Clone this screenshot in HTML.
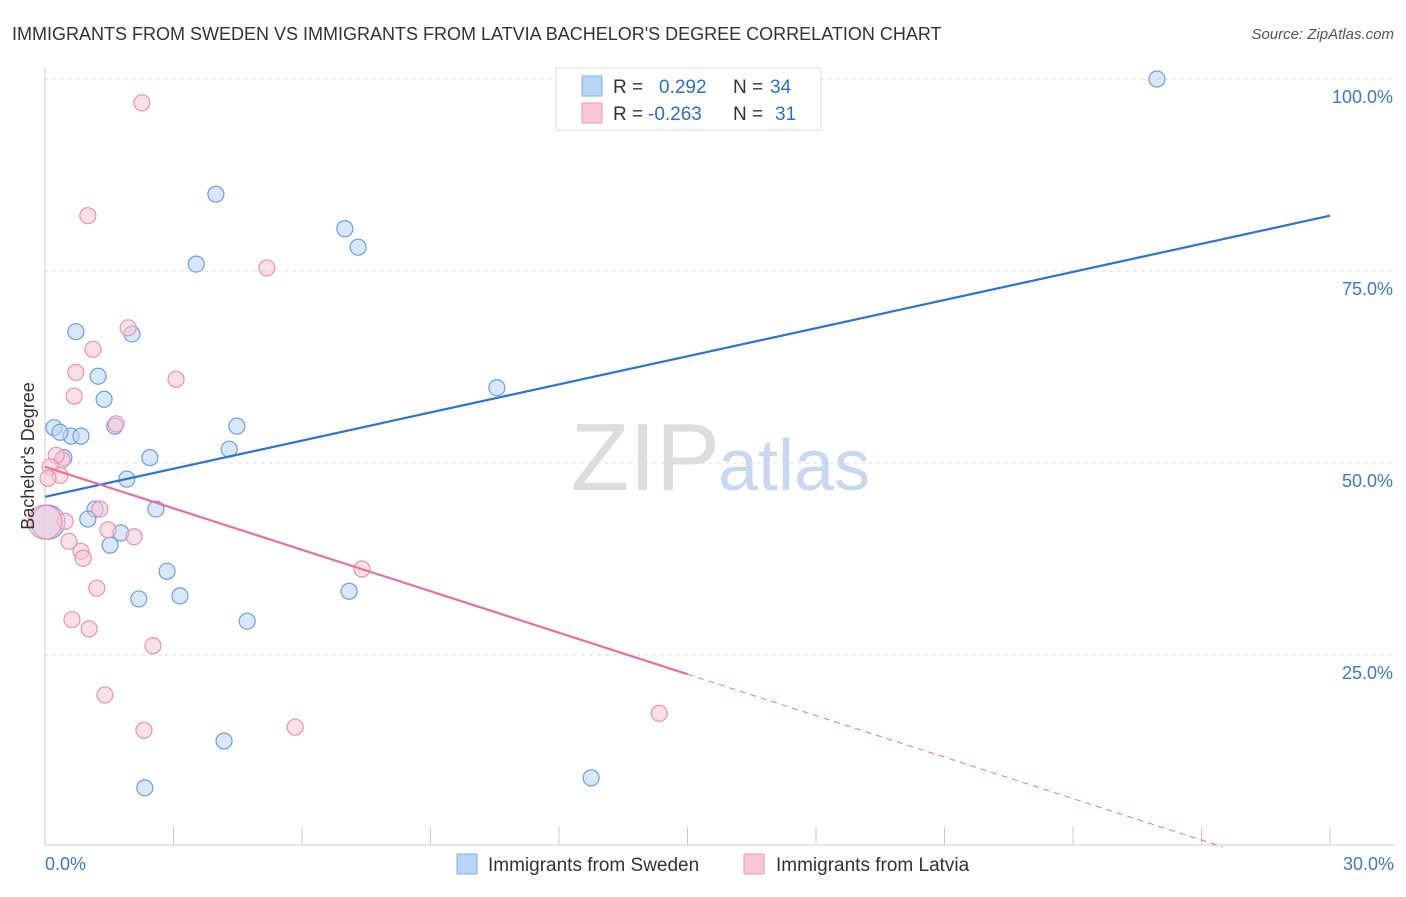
<!DOCTYPE html>
<html><head><meta charset="utf-8"><style>
body{margin:0;background:#fff;font-family:"Liberation Sans",sans-serif}
svg text{font-family:"Liberation Sans",sans-serif}
</style></head><body>
<svg id="c" width="1406" height="892" xmlns="http://www.w3.org/2000/svg">
<text x="12" y="40" font-size="18" fill="#333">IMMIGRANTS FROM SWEDEN VS IMMIGRANTS FROM LATVIA BACHELOR'S DEGREE CORRELATION CHART</text>
<text x="1394" y="39" font-size="15" fill="#555" text-anchor="end" font-style="italic">Source: ZipAtlas.com</text>
<text x="720" y="490" font-size="96" fill="#ddd" text-anchor="end" font-family="Liberation Serif">ZIP</text>
<text x="718" y="490" font-size="72" fill="#c8d8f0">atlas</text>
<g id="grid"></g><g id="axes"></g><g id="pts"></g><g id="lines"></g>
<text transform="translate(34,456) rotate(-90)" font-size="18" fill="#333" text-anchor="middle">Bachelor's Degree</text>
<g>
<rect x="556" y="68" width="265" height="62" fill="#fff" stroke="#ddd"/>
<rect x="582" y="76" width="20" height="20" fill="#b8d4f6" stroke="#7eaee8"/>
<rect x="582" y="103" width="20" height="20" fill="#f9c6d4" stroke="#ee9ab4"/>
<text x="613" y="93" font-size="19" fill="#333">R = </text><text x="659" y="93" font-size="19" fill="#2a6fcf">0.292</text>
<text x="733" y="93" font-size="19" fill="#333">N = </text><text x="770" y="93" font-size="19" fill="#2a6fcf">34</text>
<text x="613" y="120" font-size="19" fill="#333">R = </text><text x="648" y="120" font-size="19" fill="#2a6fcf">-0.263</text>
<text x="733" y="120" font-size="19" fill="#333">N = </text><text x="775" y="120" font-size="19" fill="#2a6fcf">31</text>
</g>
<g>
<rect x="457" y="854" width="20" height="20" fill="#b8d4f6" stroke="#7eaee8"/>
<text x="488" y="871" font-size="19" fill="#333">Immigrants from Sweden</text>
<rect x="744" y="854" width="20" height="20" fill="#f9c6d4" stroke="#ee9ab4"/>
<text x="776" y="871" font-size="19" fill="#333">Immigrants from Latvia</text>
</g>
</svg>
<script>
const swedenX=[25.96,3.99,7.0,7.31,3.53,0.72,2.03,1.24,1.38,10.55,0.21,1.63,4.48,0.61,0.84,0.44,2.45,4.3,1.91,2.59,1.17,1.0,1.77,1.52,2.85,2.19,3.15,7.1,4.72,4.18,12.75,2.33,0.07,0.35];
const swedenY=[100,85,80.5,78.1,75.9,67.1,66.8,61.3,58.3,59.8,54.6,54.8,54.8,53.5,53.5,50.7,50.7,51.8,47.9,44,44,42.7,40.9,39.3,35.9,32.3,32.7,33.3,29.4,13.8,9,7.7,42.3,54];
const latviaX=[2.26,1.0,5.18,1.94,1.12,0.72,3.06,0.68,1.66,0.4,0.26,0.12,0.35,0.07,0.47,1.28,1.47,2.08,0.56,0.84,0.89,7.4,1.21,0.63,1.03,2.52,1.4,2.31,5.84,14.34,0];
const latviaY=[96.9,82.2,75.4,67.6,64.8,61.8,60.9,58.7,55.1,50.4,51,49.5,48.4,48,42.4,44,41.3,40.4,39.8,38.5,37.6,36.2,33.7,29.6,28.4,26.2,19.8,15.2,15.6,17.4,42.3];
const swedenTrend=[45.6,82.2];
const latviaTrend=[49.5,-4.5];
const yTicks=[25,50,75,100];
const xTicks=[0,3,6,9,12,15,18,21,24,27,30];
const X=v=>45+v*(1285/30), Y=v=>847-v*7.68;
const NS="http://www.w3.org/2000/svg";
function mk(p,t,a){const e=document.createElementNS(NS,t);for(const k in a)e.setAttribute(k,a[k]);document.getElementById(p).appendChild(e);return e;}
yTicks.forEach(t=>{
 const l=mk('grid','line',{x1:45,x2:1394,y1:Y(t),y2:Y(t),stroke:'#ddd','stroke-dasharray':'4,4'});
 
 
 const tx=mk('grid','text',{x:1393,y:Y(t)+24,'font-size':18,fill:'#3a78d4','text-anchor':'end'});
 tx.textContent=t.toFixed(1)+'%';
 
 
});
const ax=mk('axes','line',{x1:45,x2:1394,y1:845,y2:845,stroke:'#ccc'});


const ay=mk('axes','line',{x1:45,x2:45,y1:68,y2:845,stroke:'#ccc'});


xTicks.forEach(t=>{
 const l=mk('axes','line',{x1:X(t),x2:X(t),y1:827,y2:845,stroke:'#ccc'});
 
 
});
[[0,'0.0%','start',45],[30,'30.0%','end',1394]].forEach(d=>{
 const tx=mk('axes','text',{x:d[3],y:870,'font-size':18,fill:'#3a78d4','text-anchor':d[2]});
 tx.textContent=d[1];
 
 
});
function pts(xs,ys,fill,stroke,name){xs.forEach((x,i)=>{
 const big=(x<0.1&&Math.abs(ys[i]-42.3)<0.5);
 const c=mk('pts','circle',{cx:X(x),cy:Y(ys[i]),r:big?17:8,fill:fill,'fill-opacity':0.55,stroke:stroke,'stroke-width':1.2});
 
 
});}
pts(swedenX,swedenY,'#b8d4f6','#6d9fe0','point-sweden');
pts(latviaX,latviaY,'#f9c6d4','#ea92ae','point-latvia');
const b=mk('lines','line',{x1:X(0),y1:Y(swedenTrend[0]),x2:X(30),y2:Y(swedenTrend[1]),stroke:'#2a74d4','stroke-width':2.2});


const pv=x=>latviaTrend[0]+(latviaTrend[1]-latviaTrend[0])*x/30;
const p=mk('lines','line',{x1:X(0),y1:Y(pv(0)),x2:X(15),y2:Y(pv(15)),stroke:'#e8709a','stroke-width':2.2});


const xe=latviaTrend[0]/(latviaTrend[0]-latviaTrend[1])*30;
const pd=mk('lines','line',{x1:X(15),y1:Y(pv(15)),x2:X(xe),y2:Y(0),stroke:'#e8709a','stroke-width':1,'stroke-dasharray':'6,5'});


</script>
</body></html>
